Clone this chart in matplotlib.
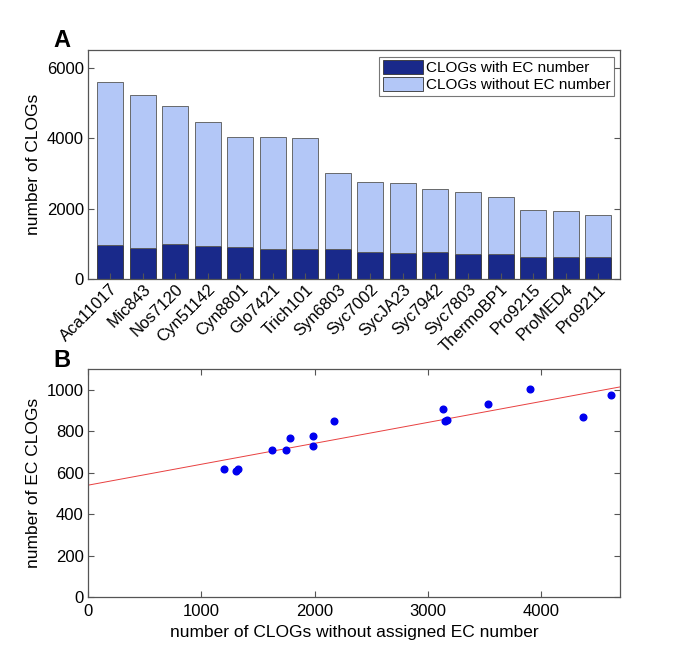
import matplotlib
matplotlib.use("Agg")
import matplotlib.pyplot as plt
import numpy as np

plt.rcParams['font.family'] = ['Liberation Sans', 'DejaVu Sans']

# genomes, sorted by total number of CLOGs
genomes = ['Aca11017', 'Mic843', 'Nos7120', 'Cyn51142', 'Cyn8801', 'Glo7421',
           'Trich101', 'Syn6803', 'Syc7002', 'SycJA23', 'Syc7942', 'Syc7803',
           'ThermoBP1', 'Pro9215', 'ProMED4', 'Pro9211']
with_ec = [975, 868, 1005, 932, 905, 854, 847, 848, 778, 727, 769, 710,
           712, 620, 610, 617]
without_ec = [4614, 4375, 3906, 3532, 3138, 3171, 3150, 2173, 1989, 1991,
              1787, 1748, 1628, 1326, 1308, 1203]

dark = '#19298a'
light = '#b3c7f7'
frame = '#555555'

fig = plt.figure(figsize=(6.85, 6.72), dpi=100)
axA = fig.add_axes([0.1285, 0.585, 0.777, 0.340])
axB = fig.add_axes([0.1285, 0.111, 0.777, 0.340])

# --- panel A: stacked bars
x = np.arange(1, len(genomes) + 1)
axA.bar(x, with_ec, width=0.8, color=dark, edgecolor='#333333', linewidth=0.6,
        label='CLOGs with EC number')
axA.bar(x, without_ec, width=0.8, bottom=with_ec, color=light,
        edgecolor='#555555', linewidth=0.6, label='CLOGs without EC number')
axA.set_xlim(0.32, 16.68)
axA.set_ylim(0, 6500)
axA.set_yticks([0, 2000, 4000, 6000])
axA.set_xticks(x)
axA.set_xticklabels(genomes, rotation=45, ha='right', rotation_mode='anchor')
axA.set_ylabel('number of CLOGs', fontsize=12.5)
axA.tick_params(direction='in', length=4, labelsize=12, color=frame,
                right=True, top=False, pad=3)
axA.tick_params(axis='x', pad=2)
leg = axA.legend(loc='upper right', fontsize=11, frameon=True, fancybox=False,
                 edgecolor=frame, borderpad=0.25, handlelength=2.6,
                 handleheight=1.0, handletextpad=0.2, labelspacing=0.1,
                 borderaxespad=0.4)
leg.get_frame().set_linewidth(0.8)
for h in leg.legend_handles:
    h.set_edgecolor('#333333')
fig.text(0.09, 0.94, 'A', fontsize=17, fontweight='bold', ha='center', va='center')

# --- panel B: EC CLOGs vs CLOGs without EC
xs = np.array(without_ec)
ys = np.array(with_ec)
slope, icpt = np.polyfit(xs, ys, 1)
xl = np.array([0, 4700])
axB.plot(xl, icpt + slope * xl, color='#e84040', linewidth=0.7)
axB.plot(xs, ys, 'o', color='#0000ee', markersize=4.8)
axB.set_xlim(0, 4700)
axB.set_ylim(0, 1100)
axB.set_xticks([0, 1000, 2000, 3000, 4000])
axB.set_yticks([0, 200, 400, 600, 800, 1000])
axB.set_xlabel('number of CLOGs without assigned EC number', fontsize=12.5, labelpad=4)
axB.set_ylabel('number of EC CLOGs', fontsize=12.5)
axB.tick_params(direction='in', length=4, labelsize=12, color=frame,
                right=True, top=True, pad=3)
axB.tick_params(axis='x', pad=5)
fig.text(0.09, 0.463, 'B', fontsize=17, fontweight='bold', ha='center', va='center')

for ax in (axA, axB):
    for s in ax.spines.values():
        s.set_color(frame)
        s.set_linewidth(0.9)

fig.savefig('out.png', dpi=100)
